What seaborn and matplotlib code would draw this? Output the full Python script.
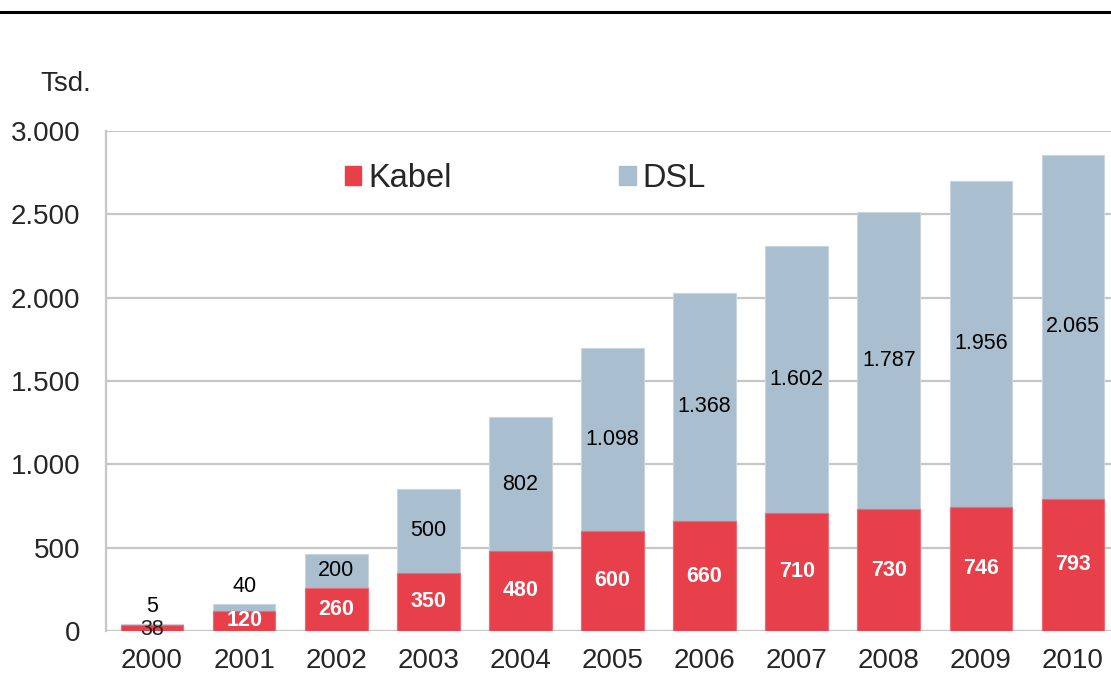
import matplotlib
matplotlib.use("Agg")
import matplotlib.pyplot as plt
from matplotlib.lines import Line2D
from matplotlib.ticker import FuncFormatter, FixedLocator
import seaborn as sns
import numpy as np
import pandas as pd

# Daten (Tsd.)
jahre = ["2000", "2001", "2002", "2003", "2004", "2005", "2006", "2007", "2008", "2009", "2010"]
kabel = [38, 120, 260, 350, 480, 600, 660, 710, 730, 746, 793]
dsl = [5, 40, 200, 500, 802, 1098, 1368, 1602, 1787, 1956, 2065]

rot = "#E8404A"
grau_blau = "#A9BECE"
gitter = "#C6C6C6"

df = pd.DataFrame({"Jahr": jahre, "Kabel": kabel, "DSL": dsl})
df["Gesamt"] = df["Kabel"] + df["DSL"]

sns.set_style("white")
plt.rcParams["font.family"] = ["Liberation Sans", "DejaVu Sans"]

fig = plt.figure(figsize=(11.11, 6.75), dpi=100)
ax = fig.add_axes([106 / 1111, 1 - 631 / 675, 1013 / 1111, 500 / 675])

ax.set_axisbelow(True)
ax.yaxis.grid(True, color=gitter, linewidth=1.6)

sns.barplot(data=df, x="Jahr", y="Gesamt", color=grau_blau, width=0.68,
            saturation=1, ax=ax, edgecolor="#C9D6E0", linewidth=0.8)
sns.barplot(data=df, x="Jahr", y="Kabel", color=rot, width=0.68,
            saturation=1, ax=ax, edgecolor="#EE6A72", linewidth=0.8)

ax.set_xlim(-0.5, 10.5)
ax.set_ylim(0, 3000)
ax.set_yticks(np.arange(0, 3001, 500))
ax.yaxis.set_major_formatter(FuncFormatter(lambda v, p: f"{int(v):,}".replace(",", ".")))
ax.set_xlabel("")
ax.set_ylabel("")

for s in ["top", "right", "bottom"]:
    ax.spines[s].set_visible(False)
ax.spines["left"].set_color(gitter)
ax.spines["left"].set_linewidth(1.6)

ax.tick_params(axis="y", length=6.5, width=1.6, color=gitter, labelsize=20, pad=12)
ax.tick_params(axis="x", which="major", length=0, labelsize=20, pad=12)
ax.xaxis.set_minor_locator(FixedLocator(np.arange(-0.5, 11, 1)))
ax.tick_params(axis="x", which="minor", length=6, width=1.6, color=gitter, direction="out")

# Beschriftungen
for i in range(len(jahre)):
    k = kabel[i]
    d = dsl[i]
    if d < 100:
        ax.annotate(str(d), (i, k + d), xytext=(0, 12.5), textcoords="offset points",
                    ha="center", va="center", fontsize=15.5, color="black")
    else:
        ax.text(i, k + d / 2, f"{d:,}".replace(",", "."), ha="center", va="center",
                fontsize=15.5, color="black")
    if k < 100:
        ax.text(i, k / 2 - 12, str(k), ha="center", va="center", fontsize=15.5, color="#222222")
    else:
        ax.text(i, k / 2, str(k), ha="center", va="center", fontsize=15.5,
                color="white", fontweight="bold")

# Legende
handles = [plt.Rectangle((0, 0), 1, 1, color=rot), plt.Rectangle((0, 0), 1, 1, color=grau_blau)]
ax.legend(handles, ["Kabel", "DSL"], loc="center left", bbox_to_anchor=(0.236, 0.905),
          ncol=2, frameon=False, fontsize=23.5, handlelength=0.5, handleheight=0.5,
          handletextpad=0.2, columnspacing=5.15, borderaxespad=0, borderpad=0)

fig.text(40 / 1111, 1 - 84 / 675, "Tsd.", fontsize=20, ha="left", va="center")
fig.add_artist(Line2D([0, 1], [1 - 12 / 675, 1 - 12 / 675], color="black", linewidth=2.2,
                      transform=fig.transFigure))

fig.savefig("out.png", dpi=100)
